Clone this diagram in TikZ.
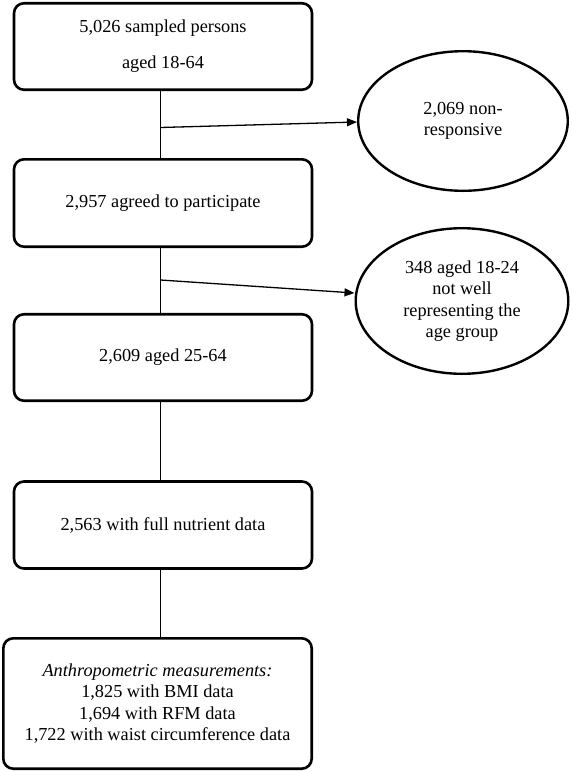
\documentclass[tikz,border=0pt]{standalone}
\usepackage{fontspec}
\setmainfont{Liberation Serif}
\usetikzlibrary{shapes.geometric,arrows.meta}
\begin{document}
\begin{tikzpicture}[x=1pt,y=1pt,
  txt/.style={font=\fontsize{18.3}{21.5}\selectfont},
  box/.style={txt, draw, line width=2.6pt, rounded corners=10pt, minimum width=298pt, align=center, inner sep=0pt},
  oval/.style={txt, draw, ellipse, line width=2.4pt, align=center, inner sep=0pt},
  conn/.style={line width=1.3pt},
  arr/.style={conn, -{Triangle[length=10pt,width=8pt]}}]
\useasboundingbox (0,0) rectangle (572,-772);
\node[box, minimum height=86.5pt] (b1) at (163,-46.5) {5,026 sampled persons\\[14.5pt]aged 18-64};
\node[box, minimum height=87.4pt] (b2) at (163,-203) {2,957 agreed to participate};
\node[box, minimum height=86.5pt] (b3) at (163,-357.5) {2,609 aged 25-64};
\node[box, minimum height=87pt] (b4) at (163,-525) {2,563 with full nutrient data};
\node[box, minimum width=308.4pt, minimum height=130.4pt] (b5) at (157.5,-703.5) {\textit{Anthropometric measurements:}\\1,825 with BMI data\\1,694 with RFM data\\1,722 with waist circumference data};
\node[oval, minimum width=209.6pt, minimum height=139.6pt] (e1) at (463,-121) {2,069 non-\\responsive};
\node[oval, minimum width=212.6pt, minimum height=145.6pt] (e2) at (462,-301) {348 aged 18-24\\not well\\representing the\\age group};
\draw[conn] ([xshift=-2.5pt]b1.south) -- ([xshift=-2.5pt]b2.north);
\draw[conn] ([xshift=-2.5pt]b2.south) -- ([xshift=-2.5pt]b3.north);
\draw[conn] ([xshift=-2.5pt]b3.south) -- ([xshift=-2.5pt]b4.north);
\draw[conn] ([xshift=-2.5pt]b4.south) -- ([xshift=3pt]b5.north);
\coordinate (j1) at (160.5,-127.5);
\coordinate (j2) at (160.5,-280);
\draw[arr] (j1) -- ([yshift=-1pt]e1.west);
\draw[arr] (j2) -- ([yshift=8pt]e2.west);
\end{tikzpicture}
\end{document}
